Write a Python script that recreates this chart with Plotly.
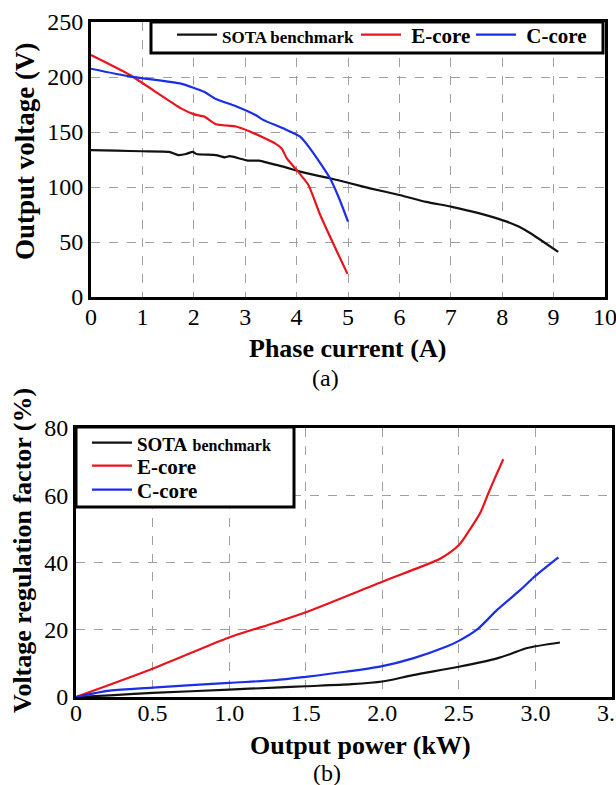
import plotly.graph_objects as go

# ---- (a) Output voltage vs phase current ----
sota_i = [0.0, 0.5, 1.0, 1.52, 1.7, 1.85, 1.98, 2.05, 2.43, 2.6, 2.7, 3.05, 3.27, 3.48, 3.74,
          4.07, 4.34, 4.65, 5.04, 5.43, 6.02, 6.52, 7.02, 7.56, 8.09, 8.32, 8.55, 9.09]
sota_v = [133.5, 133.0, 132.5, 132.0, 129.0, 130.0, 132.0, 130.0, 129.0, 127.0, 128.0, 124.0,
          124.0, 121.5, 118.5, 114.0, 111.0, 108.0, 103.4, 98.8, 92.5, 86.5, 82.0, 76.0, 68.5,
          64.0, 58.0, 41.0]

ecore_i = [0.0, 0.75, 1.75, 2.01, 2.2, 2.43, 2.82, 3.09, 3.58, 3.71, 3.81, 4.0, 4.23, 4.46,
           4.71, 4.99]
ecore_v = [220.0, 202.0, 171.5, 166.0, 164.0, 157.0, 155.0, 150.5, 139.7, 135.0, 126.0, 115.5,
           101.8, 74.5, 48.8, 21.0]

ccore_i = [0.0, 0.75, 1.75, 1.98, 2.2, 2.43, 2.82, 3.2, 3.35, 3.74, 4.07, 4.33, 4.65, 4.84,
           5.0]
ccore_v = [207.5, 200.5, 194.0, 190.5, 186.5, 180.0, 173.5, 165.5, 161.0, 153.3, 145.7, 130.6,
           107.9, 88.2, 68.5]

# ---- (b) Voltage regulation factor vs output power ----
sota_p = [0.0, 0.22, 0.5, 1.0, 1.3, 1.5, 1.8, 2.0, 2.2, 2.5, 2.75, 2.85, 2.94, 3.16]
sota_r = [0.0, 0.5, 1.2, 2.2, 2.8, 3.2, 3.8, 4.6, 6.5, 9.0, 11.5, 13.0, 14.5, 16.2]

ecore_p = [0.0, 0.5, 1.0, 1.3, 1.5, 2.0, 2.25, 2.38, 2.5, 2.57, 2.64, 2.69, 2.74, 2.79]
ecore_r = [0.0, 8.4, 17.7, 22.1, 25.2, 34.3, 38.7, 41.2, 45.2, 49.7, 54.8, 60.3, 65.6, 70.7]

ccore_p = [0.0, 0.22, 0.5, 1.0, 1.3, 1.5, 1.76, 2.0, 2.2, 2.42, 2.5, 2.62, 2.75, 2.9, 3.0, 3.15]
ccore_r = [0.0, 1.9, 2.8, 4.2, 5.0, 6.0, 7.5, 9.2, 11.5, 15.0, 16.7, 20.1, 25.9, 31.8, 36.0,
           41.5]

xa_ticks = list(range(0, 11))
xa_text = [str(v) for v in xa_ticks]
ya_ticks = [0, 50, 100, 150, 200, 250]
xb_ticks = [0, 0.5, 1.0, 1.5, 2.0, 2.5, 3.0, 3.5]
xb_text = ["0", "0.5", "1.0", "1.5", "2.0", "2.5", "3.0", "3.5"]
yb_ticks = [0, 20, 40, 60, 80]

W, H = 616, 785
SERIF = "Times New Roman, Liberation Serif, DejaVu Serif, serif"
BLACK, RED, BLUE = "#111111", "#e8141c", "#1a2ee6"


def px_x(p):
    return p / W


def px_y(p):
    return 1 - p / H


fig = go.Figure()

top_names_html = [
    "<span style='font-size:17px'>SOTA benchmark</span>",
    " E-core",
    " C-core",
]
bot_names_html = [
    "<span style='font-size:19px'>SOTA</span> <span style='font-size:16px'>benchmark</span>",
    "E-core",
    "C-core",
]
colors = [BLACK, RED, BLUE]
top_legends = ["legend", "legend2", "legend3"]
bot_legends = ["legend4", "legend5", "legend6"]

for xs, ys, nm, c, lg in zip([sota_i, ecore_i, ccore_i], [sota_v, ecore_v, ccore_v],
                             top_names_html, colors, top_legends):
    fig.add_trace(go.Scatter(x=xs, y=ys, mode="lines", name=nm,
                             line=dict(color=c, width=2.2, shape="spline", smoothing=0.5),
                             xaxis="x", yaxis="y", legend=lg))

for xs, ys, nm, c, lg in zip([sota_p, ecore_p, ccore_p], [sota_r, ecore_r, ccore_r],
                             bot_names_html, colors, bot_legends):
    fig.add_trace(go.Scatter(x=xs, y=ys, mode="lines", name=nm,
                             line=dict(color=c, width=2.2, shape="spline", smoothing=0.8),
                             xaxis="x2", yaxis="y2", legend=lg))

axis_common = dict(
    showline=True, linecolor="black", linewidth=3, mirror=True,
    showgrid=True, gridcolor="#a0a0a0", gridwidth=1, griddash="dash",
    zeroline=False, ticks="", ticklabeloverflow="allow", automargin=False,
    tickfont=dict(family=SERIF, size=24, color="black"),
)


def entry_legend(x_px, y_px, size):
    return dict(
        orientation="h", x=px_x(x_px), y=px_y(y_px), xanchor="left", yanchor="middle",
        bgcolor="rgba(0,0,0,0)", borderwidth=0,
        font=dict(family=SERIF, size=size, color="black", weight="bold"),
        itemwidth=40, tracegroupgap=0,
    )


fig.update_layout(
    template="none",
    width=W, height=H,
    margin=dict(l=0, r=0, t=0, b=0, pad=0),
    paper_bgcolor="white", plot_bgcolor="white",
    font=dict(family=SERIF, color="black"),
    showlegend=True,
    xaxis=dict(domain=[px_x(91), px_x(605)], range=[0, 10], tickvals=xa_ticks,
               ticktext=xa_text, anchor="y", ticklabelstandoff=-4, **axis_common),
    yaxis=dict(domain=[px_y(297), px_y(22)], range=[0, 250], tickvals=ya_ticks,
               anchor="x", **axis_common),
    xaxis2=dict(domain=[px_x(76), px_x(612)], range=[0, 3.5], tickvals=xb_ticks,
                ticktext=xb_text, anchor="y2", ticklabelstandoff=-8, **axis_common),
    yaxis2=dict(domain=[px_y(697), px_y(428)], range=[0, 80], tickvals=yb_ticks,
                anchor="x2", **axis_common),
    legend=entry_legend(172, 35, 21),
    legend2=entry_legend(356, 35, 21),
    legend3=entry_legend(471, 35, 21),
    legend4=entry_legend(87, 443, 21),
    legend5=entry_legend(87, 466, 21),
    legend6=entry_legend(87, 490, 21),
)

# legend frames
for x0, y0, x1, y1 in [(151, 22, 603, 53), (76, 427, 294, 507)]:
    fig.add_shape(type="rect", xref="paper", yref="paper",
                  x0=px_x(x0), x1=px_x(x1), y0=px_y(y1), y1=px_y(y0),
                  fillcolor="white", line=dict(color="black", width=3), layer="above")

title_font = dict(family=SERIF, size=26, color="black", weight="bold")
vtitle_font = dict(family=SERIF, size=27, color="black", weight="bold")
label_font = dict(family=SERIF, size=24, color="black")

annotations = [
    dict(text="Output voltage (V)", x=px_x(25), y=px_y(151), textangle=-90, font=vtitle_font),
    dict(text="Phase current (A)", x=px_x(347), y=px_y(348), font=title_font),
    dict(text="(a)", x=px_x(325), y=px_y(378), font=label_font),
    dict(text="Voltage regulation factor (%)", x=px_x(22), y=px_y(551), textangle=-90,
         font=title_font),
    dict(text="Output power (kW)", x=px_x(360), y=px_y(745), font=title_font),
    dict(text="(b)", x=px_x(327), y=px_y(773), font=label_font),
]
for a in annotations:
    fig.add_annotation(xref="paper", yref="paper", showarrow=False,
                       xanchor="center", yanchor="middle", **a)

fig.write_html("out.html")
